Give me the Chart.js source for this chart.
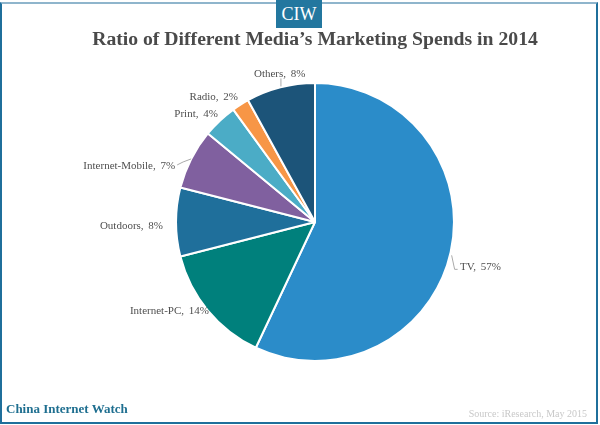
<!DOCTYPE html>
<html><head><meta charset="utf-8">
<script src="https://cdn.jsdelivr.net/npm/chart.js@4"></script>
<style>
html,body{margin:0;padding:0;background:#fff;overflow:hidden}
#wrap{position:relative;width:600px;height:425px;overflow:hidden}
canvas{position:absolute;left:0;top:0}
#frame{position:absolute;left:0;top:2px;width:594px;height:418px;border:2px solid #1F6F9B;border-top-width:2px;border-top-color:#8FB5CC;pointer-events:none}
#badge{position:absolute;left:276px;top:0;width:46px;height:28px;background:#23779F;color:#fff;font:18px/29px "Liberation Serif",serif;text-align:center}
#brand{position:absolute;left:6px;top:401px;color:#1F6F90;font:bold 13px/16px "Liberation Serif",serif;white-space:nowrap}
#source{position:absolute;right:13px;top:407px;color:#c8c8c8;font:10px/14px "Liberation Serif",serif;white-space:nowrap}
</style></head><body>
<div id="wrap">
<canvas id="c" width="600" height="425"></canvas>
<div id="frame"></div>
<div id="badge">CIW</div>
<div id="brand">China Internet Watch</div>
<div id="source">Source: iResearch, May 2015</div>
</div>
<script>
const categories = ["TV","Internet-PC","Outdoors","Internet-Mobile","Print","Radio","Others"];
const shares = [57,14,8,7,4,2,8];
const sliceColors = ["#2B8CC9","#00807C","#1F6F9B","#80609F","#4BACC6","#F79646","#1C5479"];
const chartTitle = "Ratio of Different Media\u2019s Marketing Spends in 2014";

// label placement relative to each slice's outer-edge midpoint
const labelPlacement = [
  {dx:9.3,dy:14.7,align:"left",leader:[[1,3],[4,17],[7,17]]},
  {dx:1,dy:1,align:"right"},
  {dx:-13,dy:4,align:"right"},
  {dx:-16,dy:7.5,align:"right",leader:[[0,0],[-8,3],[-14,6]]},
  {dx:-2,dy:-7,align:"right"},
  {dx:-2.5,dy:-8,align:"right"},
  {dx:25,dy:-13,align:"right",leader:[[0.5,-1],[0.5,-9]]}
];

const sliceLabels = {
  id:"sliceLabels",
  afterDatasetsDraw(chart){
    const ctx = chart.ctx, arcs = chart.getDatasetMeta(0).data;
    ctx.save();
    ctx.font = '11px "Liberation Serif", serif';
    ctx.fillStyle = "#4f4f4f";
    ctx.textBaseline = "middle";
    if ("wordSpacing" in ctx) ctx.wordSpacing = "2px";
    arcs.forEach((arc,i)=>{
      const mid = (arc.startAngle+arc.endAngle)/2;
      const ex = arc.x+arc.outerRadius*Math.cos(mid), ey = arc.y+arc.outerRadius*Math.sin(mid);
      const p = labelPlacement[i];
      if (p.leader){
        ctx.beginPath(); ctx.strokeStyle="#aaa"; ctx.lineWidth=1;
        p.leader.forEach(([a,b],k)=> k? ctx.lineTo(ex+a,ey+b):ctx.moveTo(ex+a,ey+b));
        ctx.stroke();
      }
      ctx.textAlign = p.align;
      ctx.fillText(categories[i]+", "+shares[i]+"%", ex+p.dx, ey+p.dy);
    });
    ctx.restore();
  }
};

Chart.defaults.font.family = '"Liberation Serif", serif';
new Chart(document.getElementById("c"),{
  type:"pie",
  data:{labels:categories,datasets:[{data:shares,backgroundColor:sliceColors,borderColor:"#fff",borderWidth:2}]},
  options:{
    responsive:false,animation:false,devicePixelRatio:1,
    layout:{padding:{left:30,right:0,top:28,bottom:63}},
    plugins:{
      legend:{display:false},tooltip:{enabled:false},
      title:{display:true,text:chartTitle,color:"#4A4A4A",
        font:{family:'"Liberation Serif", serif',size:19.7,weight:"bold"},
        padding:{top:0,bottom:30.4}}
    }
  },
  plugins:[sliceLabels]
});
</script>
</body></html>
